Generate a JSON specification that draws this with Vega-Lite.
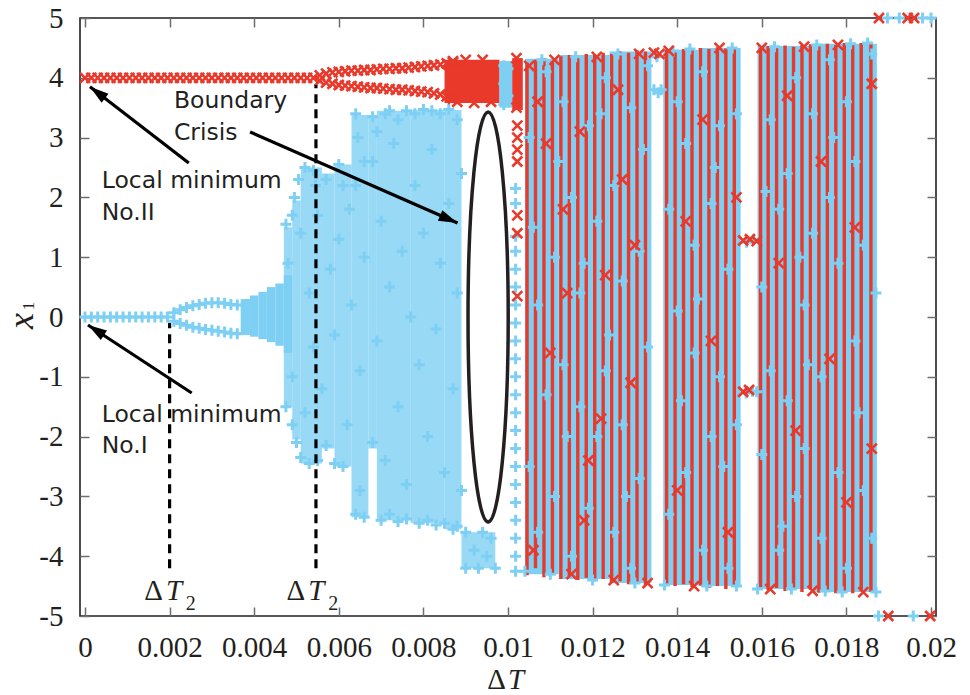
{
"$schema":"https://vega.github.io/schema/vega-lite/v6.json",
"width":856,"height":598,
"autosize":"none",
"padding":{"left":80,"top":18,"right":34,"bottom":79},
"background":"white",
"config":{"view":{"stroke":"#231f20","strokeWidth":1.6},
"axis":{"grid":false,"domain":false,"tickSize":-9,"tickColor":"#6d6e71","tickWidth":1.5,"labelFont":"Liberation Serif","labelFontSize":29,"labelColor":"#231f20","labelPadding":26,"labelOverlap":false,"labelFlush":false,"zindex":1}},
"datasets":{
"cloud":[
{"t":0.0047,"t2":0.0049,"lo":-1.5,"hi":1.5},
{"t":0.0049,"t2":0.0051,"lo":-2.05,"hi":1.95},
{"t":0.0051,"t2":0.0056,"lo":-2.45,"hi":2.5},
{"t":0.0056,"t2":0.0059,"lo":-2.2,"hi":2.4},
{"t":0.0059,"t2":0.0063,"lo":-2.5,"hi":2.55},
{"t":0.0063,"t2":0.0067,"lo":-3.35,"hi":3.38},
{"t":0.0067,"t2":0.0069,"lo":-2.2,"hi":3.38},
{"t":0.0069,"t2":0.0077,"lo":-3.4,"hi":3.45},
{"t":0.0077,"t2":0.0085,"lo":-3.45,"hi":3.46},
{"t":0.0085,"t2":0.0089,"lo":-3.55,"hi":3.46},
{"t":0.0089,"t2":0.0097,"lo":-4.2,"hi":-3.6}],
"solid":[
{"t":0.00368,"t2":0.0039,"lo":-0.3,"hi":0.3,"s":"I"},
{"t":0.0039,"t2":0.0041,"lo":-0.33,"hi":0.36,"s":"I"},
{"t":0.0041,"t2":0.0043,"lo":-0.37,"hi":0.42,"s":"I"},
{"t":0.0043,"t2":0.0045,"lo":-0.42,"hi":0.5,"s":"I"},
{"t":0.0045,"t2":0.0047,"lo":-0.48,"hi":0.56,"s":"I"},
{"t":0.0047,"t2":0.0049,"lo":-0.6,"hi":0.7,"s":"I"},
{"t":0.0085,"t2":0.0098,"lo":3.58,"hi":4.3,"s":"II"},
{"t":0.0098,"t2":0.0101,"lo":3.5,"hi":4.28,"s":"I"},
{"t":0.0101,"t2":0.01035,"lo":3.46,"hi":4.33,"s":"II"},
{"t":0.0104,"t2":0.0112,"lo":-4.3,"hi":4.32,"s":"I"},
{"t":0.0112,"t2":0.0124,"lo":-4.38,"hi":4.38,"s":"I"},
{"t":0.0124,"t2":0.01339,"lo":-4.45,"hi":4.44,"s":"I"},
{"t":0.01367,"t2":0.0145,"lo":-4.48,"hi":4.47,"s":"I"},
{"t":0.0145,"t2":0.0155,"lo":-4.5,"hi":4.5,"s":"I"},
{"t":0.0159,"t2":0.0172,"lo":-4.55,"hi":4.53,"s":"I"},
{"t":0.0172,"t2":0.01872,"lo":-4.6,"hi":4.57,"s":"I"}],
"stripes":[
{"t":0.01045,"lo":-4.32,"hi":4.25},{"t":0.01065,"lo":-4.2,"hi":4.3},{"t":0.01085,"lo":-4.35,"hi":4.33},{"t":0.01105,"lo":-4.3,"hi":4.28},{"t":0.01125,"lo":-4.38,"hi":4.36},{"t":0.01145,"lo":-4.33,"hi":4.38},{"t":0.01165,"lo":-4.4,"hi":4.35},{"t":0.01185,"lo":-4.36,"hi":4.4},{"t":0.01205,"lo":-4.42,"hi":4.38},{"t":0.01225,"lo":-4.38,"hi":4.42},{"t":0.01245,"lo":-4.45,"hi":4.4},{"t":0.01265,"lo":-4.42,"hi":4.44},{"t":0.01285,"lo":-4.47,"hi":4.42},{"t":0.01305,"lo":-4.44,"hi":4.46},{"t":0.01325,"lo":-4.48,"hi":4.44},
{"t":0.01375,"lo":-4.46,"hi":4.47},{"t":0.01395,"lo":-4.5,"hi":4.45},{"t":0.01415,"lo":-4.47,"hi":4.48},{"t":0.01435,"lo":-4.52,"hi":4.46},{"t":0.01455,"lo":-4.49,"hi":4.5},{"t":0.01475,"lo":-4.53,"hi":4.48},{"t":0.01495,"lo":-4.5,"hi":4.51},{"t":0.01515,"lo":-4.55,"hi":4.49},{"t":0.01535,"lo":-4.5,"hi":4.5},
{"t":0.01597,"lo":-4.52,"hi":4.5},{"t":0.01615,"lo":-4.57,"hi":4.53},{"t":0.01635,"lo":-4.53,"hi":4.51},{"t":0.01655,"lo":-4.58,"hi":4.54},{"t":0.01675,"lo":-4.55,"hi":4.52},{"t":0.01695,"lo":-4.6,"hi":4.55},{"t":0.01715,"lo":-4.56,"hi":4.56},{"t":0.01735,"lo":-4.61,"hi":4.54},{"t":0.01755,"lo":-4.57,"hi":4.57},{"t":0.01775,"lo":-4.62,"hi":4.55},{"t":0.01795,"lo":-4.58,"hi":4.58},{"t":0.01815,"lo":-4.62,"hi":4.56},{"t":0.01835,"lo":-4.59,"hi":4.58},{"t":0.01858,"lo":-4.6,"hi":4.57}],
"blue":[
{"t":0,"x":0},{"t":0.00015,"x":0},{"t":0.0003,"x":0},{"t":0.00045,"x":0},{"t":0.0006,"x":0},{"t":0.00075,"x":0},{"t":0.0009,"x":0},{"t":0.00105,"x":0},{"t":0.0012,"x":0},{"t":0.00135,"x":0},{"t":0.0015,"x":0},{"t":0.00165,"x":0},{"t":0.0018,"x":0},{"t":0.00195,"x":0},
{"t":0.0021,"x":0.07},{"t":0.00225,"x":0.12},{"t":0.0024,"x":0.16},{"t":0.00255,"x":0.19},{"t":0.0027,"x":0.21},{"t":0.00285,"x":0.23},{"t":0.003,"x":0.24},{"t":0.00315,"x":0.24},{"t":0.0033,"x":0.23},{"t":0.00345,"x":0.21},{"t":0.0036,"x":0.2},
{"t":0.0021,"x":-0.07},{"t":0.00225,"x":-0.11},{"t":0.0024,"x":-0.14},{"t":0.00255,"x":-0.17},{"t":0.0027,"x":-0.19},{"t":0.00285,"x":-0.21},{"t":0.003,"x":-0.22},{"t":0.00315,"x":-0.24},{"t":0.0033,"x":-0.25},{"t":0.00345,"x":-0.27},{"t":0.0036,"x":-0.28},
{"t":0.00475,"x":1.55},{"t":0.0049,"x":1.7},{"t":0.00495,"x":2.0},{"t":0.00505,"x":2.3},{"t":0.0052,"x":2.5},{"t":0.0054,"x":2.45},{"t":0.00545,"x":2.2},{"t":0.0057,"x":2.3},{"t":0.006,"x":2.55},{"t":0.0061,"x":2.2},{"t":0.00625,"x":1.8},{"t":0.0064,"x":3.4},{"t":0.00645,"x":3.0},{"t":0.0066,"x":2.6},{"t":0.0068,"x":3.35},{"t":0.0069,"x":3.1},{"t":0.0071,"x":3.4},{"t":0.0072,"x":3.45},{"t":0.0074,"x":3.3},{"t":0.0076,"x":3.45},{"t":0.0078,"x":3.4},{"t":0.008,"x":3.47},{"t":0.0082,"x":3.45},{"t":0.0084,"x":3.4},{"t":0.0086,"x":3.47},{"t":0.0088,"x":3.3},
{"t":0.00475,"x":-1.5},{"t":0.0049,"x":-1.8},{"t":0.005,"x":-2.1},{"t":0.0051,"x":-2.35},{"t":0.0053,"x":-2.45},{"t":0.0055,"x":-2.4},{"t":0.0057,"x":-2.15},{"t":0.0059,"x":-2.45},{"t":0.0061,"x":-2.5},{"t":0.0064,"x":-3.3},{"t":0.0066,"x":-3.35},{"t":0.0065,"x":-2.9},{"t":0.0068,"x":-2.1},{"t":0.007,"x":-3.4},{"t":0.0072,"x":-3.3},{"t":0.0074,"x":-3.42},{"t":0.0076,"x":-3.38},{"t":0.0079,"x":-3.45},{"t":0.0081,"x":-3.4},{"t":0.0083,"x":-3.48},{"t":0.0085,"x":-3.45},{"t":0.0087,"x":-3.55},{"t":0.0088,"x":-3.5},
{"t":0.0048,"x":0.9},{"t":0.0049,"x":-1.0},{"t":0.0051,"x":1.4},{"t":0.0052,"x":-1.6},{"t":0.0053,"x":0.4},{"t":0.0054,"x":-0.5},{"t":0.0055,"x":1.7},{"t":0.0056,"x":-1.2},{"t":0.0058,"x":0.8},{"t":0.0059,"x":-0.3},{"t":0.006,"x":1.3},{"t":0.0062,"x":-1.8},{"t":0.0063,"x":0.2},{"t":0.0064,"x":2.2},{"t":0.0065,"x":-0.9},{"t":0.0066,"x":1.0},{"t":0.0068,"x":2.6},{"t":0.0069,"x":-0.4},{"t":0.007,"x":1.6},{"t":0.0071,"x":-2.4},{"t":0.0072,"x":0.5},{"t":0.0073,"x":2.9},{"t":0.0074,"x":-1.5},{"t":0.0075,"x":1.1},{"t":0.0076,"x":-2.8},{"t":0.0077,"x":0.0},{"t":0.0078,"x":2.2},{"t":0.0079,"x":-0.8},{"t":0.008,"x":1.4},{"t":0.0081,"x":-2.0},{"t":0.0082,"x":2.8},{"t":0.0083,"x":-0.2},{"t":0.0084,"x":0.9},{"t":0.0085,"x":-2.6},{"t":0.0086,"x":1.9},{"t":0.0087,"x":-1.2},{"t":0.0088,"x":0.4},{"t":0.0089,"x":2.4},{"t":0.0089,"x":-2.9},
{"t":0.009,"x":-3.6},{"t":0.009,"x":-4.2},{"t":0.0092,"x":-3.9},{"t":0.0093,"x":-4.2},{"t":0.0094,"x":-3.6},{"t":0.0095,"x":-4.0},{"t":0.0096,"x":-3.7},{"t":0.0097,"x":-4.2},
{"t":0.0099,"x":4.2},{"t":0.01,"x":4.15},{"t":0.0099,"x":3.9},{"t":0.01,"x":3.7},{"t":0.0099,"x":3.55},
{"t":0.01018,"x":2.15},{"t":0.01018,"x":1.9},{"t":0.01018,"x":1.35},{"t":0.01018,"x":1.1},{"t":0.01018,"x":0.8},{"t":0.01018,"x":0.5},{"t":0.01018,"x":0.2},{"t":0.01018,"x":-0.1},{"t":0.01018,"x":-0.4},{"t":0.01018,"x":-0.7},{"t":0.01018,"x":-1.0},{"t":0.01018,"x":-1.3},{"t":0.01018,"x":-1.6},{"t":0.01018,"x":-1.9},{"t":0.01018,"x":-2.2},{"t":0.01018,"x":-2.5},{"t":0.01018,"x":-2.8},{"t":0.01018,"x":-3.1},{"t":0.01018,"x":-3.4},{"t":0.01018,"x":-3.7},{"t":0.01018,"x":-4.0},{"t":0.01018,"x":-4.25},
{"t":0.0104,"x":-4.25},{"t":0.0106,"x":1.5},{"t":0.0108,"x":4.3},{"t":0.011,"x":-4.3},{"t":0.0112,"x":2.6},{"t":0.0114,"x":-2.0},{"t":0.0116,"x":4.35},{"t":0.0118,"x":0.9},{"t":0.012,"x":-4.4},{"t":0.0122,"x":3.4},{"t":0.0124,"x":-0.3},{"t":0.0126,"x":4.4},{"t":0.0128,"x":-3.0},{"t":0.013,"x":-4.45},{"t":0.0132,"x":2.8},{"t":0.0137,"x":-4.48},{"t":0.0139,"x":4.45},{"t":0.0141,"x":-1.4},{"t":0.0143,"x":4.48},{"t":0.0145,"x":0.3},{"t":0.0147,"x":-4.5},{"t":0.0149,"x":2.5},{"t":0.0151,"x":-2.5},{"t":0.0153,"x":4.5},{"t":0.0154,"x":-4.5},{"t":0.0159,"x":-4.55},{"t":0.0161,"x":2.1},{"t":0.0163,"x":4.52},{"t":0.0165,"x":-3.5},{"t":0.0167,"x":-4.55},{"t":0.0169,"x":1.0},{"t":0.0171,"x":-0.8},{"t":0.0173,"x":4.55},{"t":0.0175,"x":-4.58},{"t":0.0177,"x":3.0},{"t":0.0179,"x":-4.6},{"t":0.0181,"x":4.57},{"t":0.0183,"x":-1.6},{"t":0.0185,"x":4.58},{"t":0.0187,"x":-4.6},{"t":0.0187,"x":0.4},
{"t":0.0105,"x":-2.5},{"t":0.0105,"x":3.0},{"t":0.0107,"x":0.2},{"t":0.0107,"x":-3.6},{"t":0.0109,"x":4.1},{"t":0.0109,"x":-1.3},{"t":0.0111,"x":1.0},{"t":0.0111,"x":-3.0},{"t":0.0113,"x":3.6},{"t":0.0113,"x":-0.8},{"t":0.0115,"x":2.0},{"t":0.0115,"x":-4.0},{"t":0.0117,"x":-1.5},{"t":0.0117,"x":0.4},{"t":0.0119,"x":3.2},{"t":0.0119,"x":-3.2},{"t":0.0121,"x":1.6},{"t":0.0121,"x":-2.0},{"t":0.0123,"x":-0.9},{"t":0.0123,"x":4.0},{"t":0.0125,"x":2.2},{"t":0.0125,"x":-3.6},{"t":0.0127,"x":0.6},{"t":0.0127,"x":-1.8},{"t":0.0129,"x":3.5},{"t":0.0129,"x":-4.2},{"t":0.0131,"x":-2.7},{"t":0.0131,"x":1.1},{"t":0.0133,"x":4.2},{"t":0.0133,"x":-0.5},
{"t":0.0138,"x":1.8},{"t":0.0138,"x":-3.3},{"t":0.014,"x":3.6},{"t":0.014,"x":0.1},{"t":0.0142,"x":-2.6},{"t":0.0142,"x":2.9},{"t":0.0144,"x":-0.6},{"t":0.0144,"x":1.2},{"t":0.0146,"x":4.1},{"t":0.0146,"x":-3.9},{"t":0.0148,"x":1.9},{"t":0.0148,"x":-2.0},{"t":0.015,"x":-1.0},{"t":0.015,"x":3.2},{"t":0.0152,"x":0.8},{"t":0.0152,"x":-4.2},{"t":0.0154,"x":3.4},{"t":0.0154,"x":-1.8},
{"t":0.016,"x":0.5},{"t":0.016,"x":-2.3},{"t":0.0162,"x":3.3},{"t":0.0162,"x":-0.9},{"t":0.0164,"x":-3.9},{"t":0.0164,"x":1.8},{"t":0.0166,"x":2.4},{"t":0.0166,"x":-1.4},{"t":0.0168,"x":4.0},{"t":0.0168,"x":-3.0},{"t":0.017,"x":-2.2},{"t":0.017,"x":0.2},{"t":0.0172,"x":1.4},{"t":0.0172,"x":3.4},{"t":0.0174,"x":-3.7},{"t":0.0174,"x":-1.0},{"t":0.0176,"x":2.0},{"t":0.0176,"x":4.3},{"t":0.0178,"x":-2.6},{"t":0.0178,"x":0.9},{"t":0.018,"x":3.6},{"t":0.018,"x":-4.2},{"t":0.0182,"x":-0.4},{"t":0.0182,"x":2.6},{"t":0.0184,"x":1.2},{"t":0.0184,"x":-2.9},{"t":0.0186,"x":4.4},{"t":0.0186,"x":-3.7},
{"t":0.01345,"x":3.8},{"t":0.01355,"x":3.75},{"t":0.01362,"x":3.8},{"t":0.01352,"x":4.35},
{"t":0.01564,"x":1.25},{"t":0.0158,"x":1.3},{"t":0.01563,"x":-1.27},{"t":0.01578,"x":-1.24},{"t":0.01588,"x":-1.25},
{"t":0.01897,"x":5},{"t":0.01925,"x":5},{"t":0.0198,"x":5},{"t":0.02,"x":5},{"t":0.01876,"x":-5},{"t":0.01958,"x":-5}],
"red":[
{"t":0,"x":4},{"t":0.00015,"x":4},{"t":0.0003,"x":4},{"t":0.00045,"x":4},{"t":0.0006,"x":4},{"t":0.00075,"x":4},{"t":0.0009,"x":4},{"t":0.00105,"x":4},{"t":0.0012,"x":4},{"t":0.00135,"x":4},{"t":0.0015,"x":4},{"t":0.00165,"x":4},{"t":0.0018,"x":4},{"t":0.00195,"x":4},{"t":0.0021,"x":4},{"t":0.00225,"x":4},{"t":0.0024,"x":4},{"t":0.00255,"x":4},{"t":0.0027,"x":4},{"t":0.00285,"x":4},{"t":0.003,"x":4},{"t":0.00315,"x":4},{"t":0.0033,"x":4},{"t":0.00345,"x":4},{"t":0.0036,"x":4},{"t":0.00375,"x":4},{"t":0.0039,"x":4},{"t":0.00405,"x":4},{"t":0.0042,"x":4},{"t":0.00435,"x":4},{"t":0.0045,"x":4},{"t":0.00465,"x":4},{"t":0.0048,"x":4},{"t":0.00495,"x":4},{"t":0.0051,"x":4},{"t":0.00525,"x":4},{"t":0.0054,"x":4},
{"t":0.00555,"x":4.04},{"t":0.0057,"x":4.07},{"t":0.00585,"x":4.09},{"t":0.006,"x":4.1},{"t":0.00615,"x":4.11},{"t":0.0063,"x":4.12},{"t":0.00645,"x":4.12},{"t":0.0066,"x":4.13},{"t":0.00675,"x":4.13},{"t":0.0069,"x":4.14},{"t":0.00705,"x":4.15},{"t":0.0072,"x":4.15},{"t":0.00735,"x":4.16},{"t":0.0075,"x":4.16},{"t":0.00765,"x":4.17},{"t":0.0078,"x":4.18},{"t":0.00795,"x":4.19},{"t":0.0081,"x":4.2},{"t":0.00825,"x":4.21},{"t":0.0084,"x":4.22},{"t":0.00855,"x":4.24},{"t":0.0087,"x":4.26},
{"t":0.00555,"x":3.95},{"t":0.0057,"x":3.92},{"t":0.00585,"x":3.9},{"t":0.006,"x":3.88},{"t":0.00615,"x":3.87},{"t":0.0063,"x":3.86},{"t":0.00645,"x":3.85},{"t":0.0066,"x":3.84},{"t":0.00675,"x":3.83},{"t":0.0069,"x":3.83},{"t":0.00705,"x":3.82},{"t":0.0072,"x":3.81},{"t":0.00735,"x":3.8},{"t":0.0075,"x":3.8},{"t":0.00765,"x":3.79},{"t":0.0078,"x":3.78},{"t":0.00795,"x":3.77},{"t":0.0081,"x":3.76},{"t":0.00825,"x":3.74},{"t":0.0084,"x":3.72},{"t":0.00855,"x":3.69},{"t":0.0087,"x":3.65},
{"t":0.0087,"x":4.28},{"t":0.0088,"x":3.6},{"t":0.009,"x":4.3},{"t":0.0092,"x":3.58},{"t":0.0094,"x":4.3},{"t":0.0096,"x":3.6},{"t":0.0102,"x":4.33},{"t":0.0102,"x":3.5},
{"t":0.01022,"x":3.2},{"t":0.01022,"x":3.0},{"t":0.01022,"x":2.8},{"t":0.01022,"x":2.6},{"t":0.01022,"x":1.7},{"t":0.01022,"x":1.4},{"t":0.01022,"x":0.35},
{"t":0.0105,"x":4.2},{"t":0.0107,"x":3.6},{"t":0.0109,"x":2.9},{"t":0.0111,"x":4.3},{"t":0.0113,"x":1.8},{"t":0.0115,"x":-4.3},{"t":0.0117,"x":3.1},{"t":0.0119,"x":-2.4},{"t":0.0121,"x":4.35},{"t":0.0123,"x":0.7},{"t":0.0125,"x":-4.4},{"t":0.0127,"x":2.3},{"t":0.0129,"x":-1.1},{"t":0.0131,"x":4.4},{"t":0.0133,"x":-4.45},{"t":0.0106,"x":-3.9},{"t":0.011,"x":-0.6},{"t":0.0114,"x":0.4},{"t":0.0118,"x":-3.4},{"t":0.0122,"x":-1.7},{"t":0.0126,"x":3.8},{"t":0.013,"x":1.2},{"t":0.0138,"x":4.45},{"t":0.014,"x":-2.9},{"t":0.0142,"x":1.6},{"t":0.0144,"x":-4.5},{"t":0.0146,"x":3.3},{"t":0.0148,"x":-0.4},{"t":0.015,"x":4.5},{"t":0.0152,"x":-3.6},{"t":0.0154,"x":2.0},{"t":0.016,"x":4.5},{"t":0.0162,"x":-4.55},{"t":0.0164,"x":0.9},{"t":0.0166,"x":3.7},{"t":0.0168,"x":-1.9},{"t":0.017,"x":4.52},{"t":0.0172,"x":-4.58},{"t":0.0174,"x":2.6},{"t":0.0176,"x":-0.7},{"t":0.0178,"x":4.55},{"t":0.018,"x":-3.1},{"t":0.0182,"x":1.5},{"t":0.0184,"x":-4.6},{"t":0.0186,"x":3.9},{"t":0.0186,"x":-2.2},
{"t":0.01345,"x":4.42},{"t":0.01358,"x":4.4},
{"t":0.01556,"x":1.28},{"t":0.01572,"x":1.3},{"t":0.01588,"x":1.27},{"t":0.01556,"x":-1.25},{"t":0.0157,"x":-1.22},
{"t":0.01877,"x":5},{"t":0.01945,"x":5},{"t":0.0196,"x":5},{"t":0.01899,"x":-5},{"t":0.01998,"x":-5}],
"dash":[{"t":0.002,"lo":-4.2,"hi":-0.1},{"t":0.00546,"lo":-4.2,"hi":3.88}],
"arrows":[{"t":0.002453,"x":2.575,"t2":0.000117,"x2":3.85},{"t":0.003902,"x":3.094,"t2":0.008808,"x2":1.572},{"t":0.002523,"x":-1.271,"t2":0.00007,"x2":-0.134}],
"notes":[{"t":0.002103,"x":3.495,"label":"Boundary"},{"t":0.002103,"x":2.96,"label":"Crisis"},{"t":0.000397,"x":2.157,"label":"Local minimum"},{"t":0.000397,"x":1.622,"label":"No.II"},{"t":0.000397,"x":-1.756,"label":"Local minimum"},{"t":0.000397,"x":-2.274,"label":"No.I"}],
"upright":[{"t":0.001402,"x":-4.732,"label":"Δ"},{"t":0.004766,"x":-4.732,"label":"Δ"},{"t":0.009509,"x":-6.221,"label":"Δ"}],
"italic":[{"t":0.001916,"x":-4.732,"label":"T"},{"t":0.00528,"x":-4.732,"label":"T"},{"t":0.01,"x":-6.221,"label":"T"}],
"sub":[{"t":0.00238,"x":-4.9,"label":"2"},{"t":0.00575,"x":-4.9,"label":"2"}]
},
"layer":[
{"data":{"name":"cloud"},"mark":{"type":"rect","color":"#7ecff4","opacity":0.8},
 "encoding":{"x":{"field":"t","type":"quantitative","scale":{"domain":[0,0.02],"nice":false,"zero":false},"axis":{"values":[0,0.002,0.004,0.006,0.008,0.01,0.012,0.014,0.016,0.018,0.02],"labelExpr":"'' + datum.value","title":null}},
 "x2":{"field":"t2"},
 "y":{"field":"lo","type":"quantitative","scale":{"domain":[-5,5],"nice":false,"zero":false},"axis":{"values":[-5,-4,-3,-2,-1,0,1,2,3,4,5],"labelExpr":"'' + datum.value","title":null}},
 "y2":{"field":"hi"}}},
{"data":{"name":"solid"},"mark":{"type":"rect","opacity":1},
 "encoding":{"x":{"field":"t","type":"quantitative","axis":null},"x2":{"field":"t2"},"y":{"field":"lo","type":"quantitative","axis":null},"y2":{"field":"hi"},
 "color":{"field":"s","type":"nominal","scale":{"domain":["I","II"],"range":["#7ecff4","#e8392b"]},"legend":null}}},
{"data":{"name":"stripes"},"mark":{"type":"bar","size":3.4,"color":"#e8392b","opacity":1},
 "encoding":{"x":{"field":"t","type":"quantitative","axis":null},"y":{"field":"lo","type":"quantitative","axis":null},"y2":{"field":"hi"}}},
{"data":{"name":"blue"},"mark":{"type":"point","shape":"M-1,0L1,0M0,-1L0,1","size":121,"filled":false,"color":"#7ecff4","strokeWidth":3,"opacity":1},
 "encoding":{"x":{"field":"t","type":"quantitative","axis":null},"y":{"field":"x","type":"quantitative","axis":null}}},
{"data":{"name":"red"},"mark":{"type":"point","shape":"M-1,-1L1,1M-1,1L1,-1","size":100,"filled":false,"color":"#e8392b","strokeWidth":2.6,"opacity":1},
 "encoding":{"x":{"field":"t","type":"quantitative","axis":null},"y":{"field":"x","type":"quantitative","axis":null}}},
{"data":{"name":"dash"},"mark":{"type":"rule","color":"#000000","strokeWidth":3.2,"strokeDash":[9,6]},
 "encoding":{"x":{"field":"t","type":"quantitative","axis":{"orient":"top","labels":false,"title":null,"values":[0,0.002,0.004,0.006,0.008,0.01,0.012,0.014,0.016,0.018,0.02]}},
 "y":{"field":"lo","type":"quantitative","axis":{"orient":"right","labels":false,"title":null,"values":[-5,-4,-3,-2,-1,0,1,2,3,4,5]}},"y2":{"field":"hi"}}},
{"data":{"values":[{"t":0.00953,"x":0}]},"mark":{"type":"point","shape":"M0,-1C0.054,-1 0.098,-0.552 0.098,0C0.098,0.552 0.054,1 0,1C-0.054,1 -0.098,0.552 -0.098,0C-0.098,-0.552 -0.054,-1 0,-1Z","size":168100,"filled":false,"color":"#231f20","strokeWidth":3.5,"opacity":1},
 "encoding":{"x":{"field":"t","type":"quantitative","axis":null},"y":{"field":"x","type":"quantitative","axis":null}}},
{"data":{"name":"arrows"},"mark":{"type":"rule","color":"#000000","strokeWidth":3.2},
 "encoding":{"x":{"field":"t","type":"quantitative","axis":null},"y":{"field":"x","type":"quantitative","axis":null},"x2":{"field":"t2"},"y2":{"field":"x2"}}},
{"data":{"values":[{"t":0.000117,"x":3.85}]},"mark":{"type":"point","shape":"M0,0L-0.6,2L0.6,2Z","size":361,"filled":true,"color":"#000000","angle":307.3,"opacity":1},
 "encoding":{"x":{"field":"t","type":"quantitative","axis":null},"y":{"field":"x","type":"quantitative","axis":null}}},
{"data":{"values":[{"t":0.008808,"x":1.572}]},"mark":{"type":"point","shape":"M0,0L-0.6,2L0.6,2Z","size":361,"filled":true,"color":"#000000","angle":113.4,"opacity":1},
 "encoding":{"x":{"field":"t","type":"quantitative","axis":null},"y":{"field":"x","type":"quantitative","axis":null}}},
{"data":{"values":[{"t":0.00007,"x":-0.134}]},"mark":{"type":"point","shape":"M0,0L-0.6,2L0.6,2Z","size":361,"filled":true,"color":"#000000","angle":302.9,"opacity":1},
 "encoding":{"x":{"field":"t","type":"quantitative","axis":null},"y":{"field":"x","type":"quantitative","axis":null}}},
{"data":{"name":"notes"},"mark":{"type":"text","font":"DejaVu Sans","fontSize":23.5,"align":"left","baseline":"alphabetic","color":"#231f20"},
 "encoding":{"x":{"field":"t","type":"quantitative","axis":null},"y":{"field":"x","type":"quantitative","axis":null},"text":{"field":"label"}}},
{"data":{"name":"upright"},"mark":{"type":"text","font":"Liberation Serif","fontSize":29,"align":"left","baseline":"alphabetic","color":"#231f20"},
 "encoding":{"x":{"field":"t","type":"quantitative","axis":null},"y":{"field":"x","type":"quantitative","axis":null},"text":{"field":"label"}}},
{"data":{"name":"italic"},"mark":{"type":"text","font":"Liberation Serif","fontStyle":"italic","fontSize":29,"align":"left","baseline":"alphabetic","color":"#231f20"},
 "encoding":{"x":{"field":"t","type":"quantitative","axis":null},"y":{"field":"x","type":"quantitative","axis":null},"text":{"field":"label"}}},
{"data":{"name":"sub"},"mark":{"type":"text","font":"Liberation Serif","fontSize":20,"align":"left","baseline":"alphabetic","color":"#231f20"},
 "encoding":{"x":{"field":"t","type":"quantitative","axis":null},"y":{"field":"x","type":"quantitative","axis":null},"text":{"field":"label"}}},
{"data":{"values":[{"t":-0.001238,"x":-0.067,"label":"x"}]},"mark":{"type":"text","font":"Liberation Serif","fontStyle":"italic","fontSize":36,"angle":270,"align":"center","baseline":"alphabetic","color":"#231f20"},
 "encoding":{"x":{"field":"t","type":"quantitative","axis":null},"y":{"field":"x","type":"quantitative","axis":null},"text":{"field":"label"}}},
{"data":{"values":[{"t":-0.001215,"x":0.184,"label":"1"}]},"mark":{"type":"text","font":"Liberation Serif","fontSize":17,"angle":270,"align":"center","baseline":"alphabetic","color":"#231f20"},
 "encoding":{"x":{"field":"t","type":"quantitative","axis":null},"y":{"field":"x","type":"quantitative","axis":null},"text":{"field":"label"}}}
],
"resolve":{"axis":{"x":"independent","y":"independent"}}
}
